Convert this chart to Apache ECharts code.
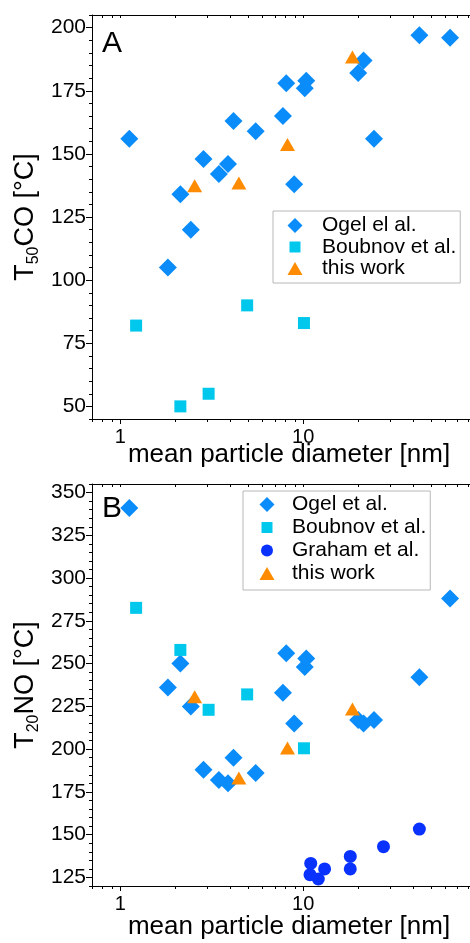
<!DOCTYPE html>
<html>
<head>
<meta charset="utf-8">
<script src="https://cdn.jsdelivr.net/npm/echarts@6.0.0/dist/echarts.min.js"></script>
<style>
html, body { margin: 0; padding: 0; background: #fff; }
#chart { width: 470px; height: 943px; }
</style>
</head>
<body>
<div id="chart"></div>
<script>
// mean particle diameter [nm] and light-off temperatures [°C]
var ogelSize = [1.12, 1.82, 2.13, 2.43, 2.85, 3.46, 3.88, 4.16, 5.5, 7.75, 8.08, 8.93, 10.2, 10.4, 20.0, 21.4, 24.4, 43.2, 63.6];
var ogelCO = [156, 105, 134, 120, 148, 142, 146, 163, 159, 165, 178, 138, 176, 179, 182, 187, 156, 197, 196];
var ogelNO = [341, 236, 250, 225, 188, 182, 180, 195, 186, 233, 256, 215, 248, 253, 217, 215, 217, 242, 288];

var boubnovSize = [1.22, 2.13, 3.04, 4.94, 10.1];
var boubnovCO = [82, 50, 55, 90, 83];
var boubnovNO = [282.6, 258, 223, 232, 200.5];

var grahamSize = [10.9, 11.0, 12.1, 13.1, 18.1, 18.1, 27.5, 43.2];
var grahamNO = [126.6, 133.2, 124.1, 130, 130, 137.3, 143, 153.3];

var thisSize = [2.55, 4.45, 8.21, 18.6];
var thisCO = [137.4, 138.5, 153.7, 188.4];
var thisNO = [230.7, 183.2, 200.7, 223.5];

// tick labels
var xMajorTicks = [1, 10];
var xMinorTicks = [0.7, 0.8, 0.9, 2, 3, 4, 5, 6, 7, 8, 9, 20, 30, 40, 50, 60, 70, 80, 90];
var coTicks = [50, 75, 100, 125, 150, 175, 200];
var noTicks = [125, 150, 175, 200, 225, 250, 275, 300, 325, 350];

var FONT = "'Liberation Sans', Arial, sans-serif";
var C_OGEL = "#0a8cfa";
var C_BOUB = "#00c8ec";
var C_GRAH = "#0a32ff";
var C_THIS = "#ff8c00";

// legend icons (15x15 box, smaller shapes inside)
var ICON_SQUARE = "path://M0,0M15,15M2,2L13,2L13,13L2,13Z";
var ICON_CIRCLE = "path://M0,0M15,15M1.5,7.5A6,6,0,1,1,13.5,7.5A6,6,0,1,1,1.5,7.5Z";
var ICON_TRI = "path://M0,0M15,15M7.5,1L15,14L0,14Z";

function pairs(xs, ys) {
  return xs.map(function (x, i) { return [x, ys[i]]; });
}

function xAxes(g, gap) {
  var ls = { color: "#000", width: 1 };
  return [
    {
      type: "log", gridIndex: g, min: 0.7, max: 100, position: "bottom",
      axisLine: { show: true, lineStyle: ls },
      axisTick: { show: true, inside: false, length: 5, customValues: xMajorTicks, lineStyle: ls },
      axisLabel: { customValues: xMajorTicks, fontSize: 20, color: "#000", margin: 8, fontFamily: FONT },
      splitLine: { show: false },
      name: "mean particle diameter [nm]", nameLocation: "middle", nameGap: gap,
      nameMoveOverlap: false,
      nameTextStyle: { fontSize: 26, color: "#000", fontFamily: FONT }
    },
    {
      type: "log", gridIndex: g, min: 0.7, max: 100, position: "bottom",
      axisLine: { show: false },
      axisTick: { show: true, inside: false, length: 3, customValues: xMinorTicks, lineStyle: ls },
      axisLabel: { show: false },
      splitLine: { show: false }
    },
    {
      type: "log", gridIndex: g, min: 0.7, max: 100, position: "top",
      axisLine: { show: true, lineStyle: ls },
      axisTick: { show: true, inside: true, length: 3, customValues: xMajorTicks.concat(xMinorTicks), lineStyle: ls },
      axisLabel: { show: false },
      splitLine: { show: false }
    }
  ];
}

function yAxes(g, min, max, ticks, sub, rest) {
  var ls = { color: "#000", width: 1 };
  return [
    {
      type: "value", gridIndex: g, min: min, max: max, interval: 5, position: "left",
      axisLine: { show: true, lineStyle: ls },
      axisTick: { show: true, inside: false, length: 3, lineStyle: ls },
      axisLabel: { customValues: ticks, fontSize: 21, color: "#000", margin: 6, fontFamily: FONT },
      splitLine: { show: false },
      name: "{a|T}{s|" + sub + "}{a|" + rest + "}",
      nameLocation: "middle", nameRotate: 90, nameGap: 50, nameMoveOverlap: false,
      nameTextStyle: {
        color: "#000",
        rich: {
          a: { fontSize: 27, color: "#000", fontFamily: FONT },
          s: { fontSize: 16, color: "#000", fontFamily: FONT, padding: [16, 0, 0, 0] }
        }
      }
    },
    {
      type: "value", gridIndex: g, min: min, max: max, interval: 5, position: "left",
      axisLine: { show: false },
      axisTick: { show: true, inside: false, length: 6, customValues: ticks, lineStyle: ls },
      axisLabel: { show: false },
      splitLine: { show: false }
    }
  ];
}

function legend(items, left, top, pad, gap, textPad) {
  return {
    orient: "vertical", left: left, top: top, data: items,
    padding: pad, itemGap: gap, itemWidth: 15, itemHeight: 15,
    borderColor: "#b8b8b8", borderWidth: 1, backgroundColor: "#fff",
    textStyle: { fontSize: 21, color: "#000", fontFamily: FONT, lineHeight: 21, padding: [0, 0, 0, textPad] },
    selectedMode: false
  };
}

var chart = echarts.init(document.getElementById("chart"));
var option = {
  animation: false,
  backgroundColor: "#fff",
  textStyle: { fontFamily: FONT },
  title: [
    { text: "A", left: 102, top: 29, padding: 0, textStyle: { fontSize: 30, fontWeight: "normal", color: "#000", fontFamily: FONT } },
    { text: "B", left: 102, top: 494, padding: 0, textStyle: { fontSize: 30, fontWeight: "normal", color: "#000", fontFamily: FONT } }
  ],
  grid: [
    { left: 92, top: 15, height: 404, right: -16, outerBoundsMode: "none", containLabel: false },
    { left: 92, top: 484, height: 402, right: -16, outerBoundsMode: "none", containLabel: false }
  ],
  legend: [
    legend([
      { name: "Ogel el al.", icon: "diamond" },
      { name: "Boubnov et al.", icon: ICON_SQUARE },
      { name: "this work", icon: ICON_TRI }
    ], 273, 211, [4, 4, 4, 14.5], 0.5, 14.5),
    legend([
      { name: "Ogel et al.", icon: "diamond" },
      { name: "Boubnov et al.", icon: ICON_SQUARE },
      { name: "Graham et al.", icon: ICON_CIRCLE },
      { name: "this work", icon: ICON_TRI }
    ], 243, 491, [3, 4, 6, 16.5], 2, 12.5)
  ],
  xAxis: xAxes(0, 23).concat(xAxes(1, 28)),
  yAxis: yAxes(0, 45, 205, coTicks, "50", "CO [°C]").concat(yAxes(1, 120, 355, noTicks, "20", "NO [°C]")),
  series: [
    { name: "Ogel el al.", type: "scatter", xAxisIndex: 0, yAxisIndex: 0, symbol: "diamond", symbolSize: 18,
      itemStyle: { color: C_OGEL, opacity: 1 }, data: pairs(ogelSize, ogelCO) },
    { name: "Boubnov et al.", type: "scatter", xAxisIndex: 0, yAxisIndex: 0, symbol: "rect", symbolSize: 12,
      itemStyle: { color: C_BOUB, opacity: 1 }, data: pairs(boubnovSize, boubnovCO) },
    { name: "this work", type: "scatter", xAxisIndex: 0, yAxisIndex: 0, symbol: "triangle", symbolSize: [15, 13],
      itemStyle: { color: C_THIS, opacity: 1 }, data: pairs(thisSize, thisCO) },

    { name: "Ogel et al.", type: "scatter", xAxisIndex: 3, yAxisIndex: 2, symbol: "diamond", symbolSize: 18,
      itemStyle: { color: C_OGEL, opacity: 1 }, data: pairs(ogelSize, ogelNO) },
    { name: "Boubnov et al.", type: "scatter", xAxisIndex: 3, yAxisIndex: 2, symbol: "rect", symbolSize: 12,
      itemStyle: { color: C_BOUB, opacity: 1 }, data: pairs(boubnovSize, boubnovNO) },
    { name: "Graham et al.", type: "scatter", xAxisIndex: 3, yAxisIndex: 2, symbol: "circle", symbolSize: 13,
      itemStyle: { color: C_GRAH, opacity: 1 }, data: pairs(grahamSize, grahamNO) },
    { name: "this work", type: "scatter", xAxisIndex: 3, yAxisIndex: 2, symbol: "triangle", symbolSize: [15, 13],
      itemStyle: { color: C_THIS, opacity: 1 }, data: pairs(thisSize, thisNO) }
  ]
};
chart.setOption(option);
window.addEventListener("resize", function () { chart.resize(); });
</script>
</body>
</html>
